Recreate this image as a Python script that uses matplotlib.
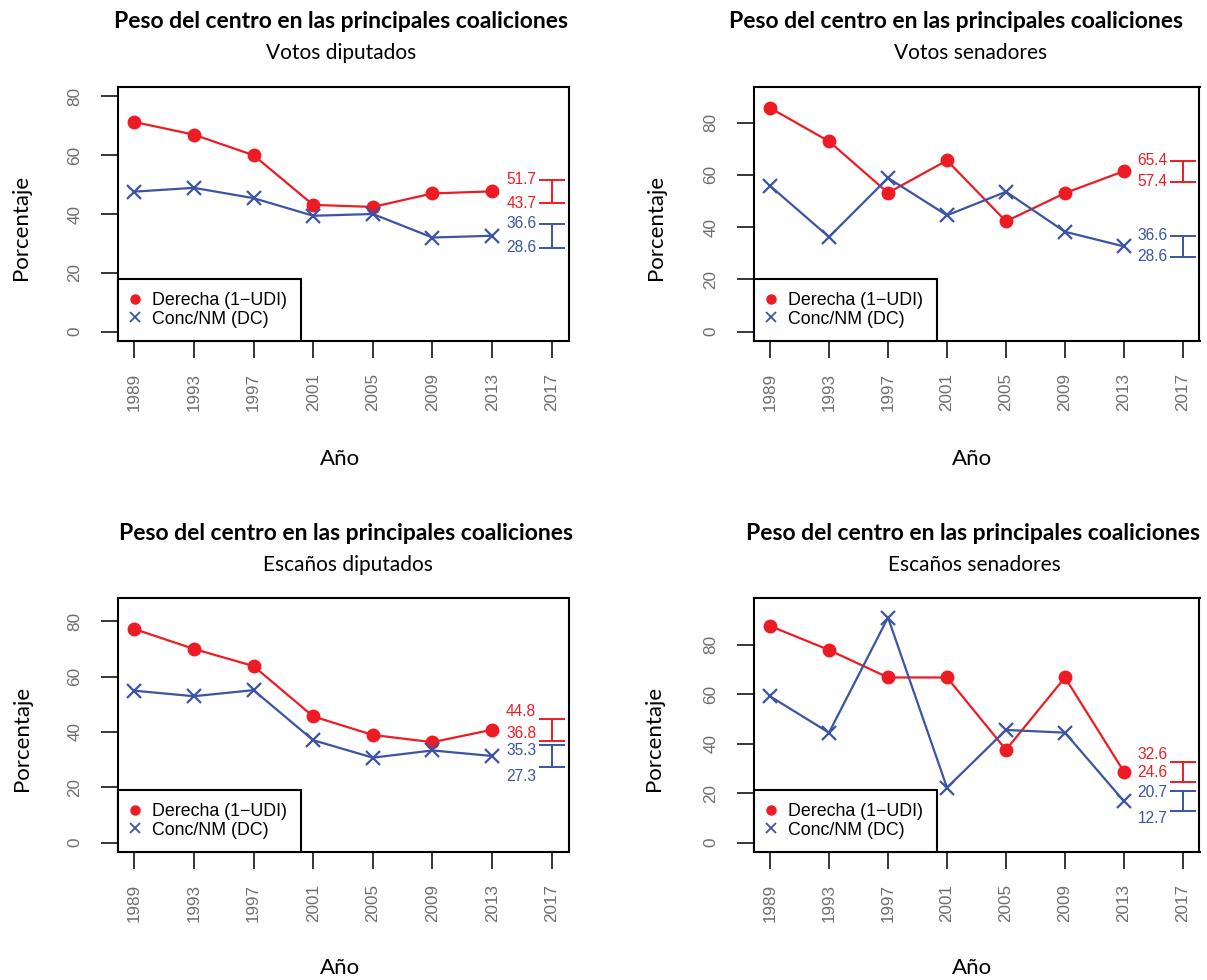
import matplotlib
matplotlib.use("Agg")
import matplotlib.pyplot as plt
from matplotlib.lines import Line2D

# ---- data ---------------------------------------------------------------
years = [1989, 1993, 1997, 2001, 2005, 2009, 2013]
year_ticks = [1989, 1993, 1997, 2001, 2005, 2009, 2013, 2017]
y_ticks = [0, 20, 40, 60, 80]

subtitles = ["Votos diputados", "Votos senadores",
             "Escaños diputados", "Escaños senadores"]

derecha_votos_dip = [71.3, 67.0, 60.0, 43.1, 42.4, 47.0, 47.7]
conc_votos_dip = [47.6, 48.9, 45.4, 39.4, 40.0, 32.0, 32.6]

derecha_votos_sen = [85.6, 72.8, 53.1, 65.5, 42.2, 53.0, 61.4]
conc_votos_sen = [55.8, 36.2, 58.8, 44.5, 53.5, 38.2, 32.6]

derecha_escanos_dip = [77.2, 70.0, 63.8, 45.6, 38.9, 36.3, 40.8]
conc_escanos_dip = [54.9, 52.9, 55.1, 37.0, 30.7, 33.3, 31.3]

derecha_escanos_sen = [87.5, 77.8, 66.7, 66.7, 37.5, 66.7, 28.6]
conc_escanos_sen = [59.1, 44.4, 90.9, 22.2, 45.5, 44.4, 16.7]

# upper limit of the y range for each panel
y_top = [80, 90, 85, 95]
# half width of the band drawn around the last observation
band = 4.0

legend_labels = ["Derecha (1\u2212UDI)", "Conc/NM (DC)"]

# ---- style ----------------------------------------------------------------
RED = "#ED1C24"
BLUE = "#3B54A4"
GRAY = "#6E6E6E"
SANS = ["Liberation Sans", "DejaVu Sans"]
HEAD = ["Lato", "DejaVu Sans"]

W, H = 1207, 980
fig = plt.figure(figsize=(W / 100, H / 100), dpi=100)


def px_axes(left, top, right, bottom):
    return fig.add_axes([left / W, 1 - bottom / H, (right - left) / W,
                         (bottom - top) / H])


def ftext(x, y, s, **kw):
    fig.text(x / W, 1 - y / H, s, ha="center", va="center", **kw)


# panel geometry in pixels: left, top, right, bottom
boxes = [(117.5, 87, 568.5, 341), (753.5, 87, 1199.5, 341),
         (117.5, 598, 568.5, 852), (753.5, 598, 1199.5, 852)]
title_pos = [(341, 21), (956, 21), (346, 533), (973, 533)]
sub_pos = [(341, 53), (971, 53), (348, 565), (974, 565)]
ylab_pos = [(21, 227), (656, 227), (22, 738), (654, 738)]
xlab_pos = [(340, 459), (972, 459), (340, 968), (972, 968)]
# vertical nudges (points, positive = up) of the four band labels
label_nudge = [(0, 0, 0, 0), (0, 0, 0, 0),
               (5.0, 5.5, -3.8, -6.8), (5.5, 6.3, -0.7, -5.0)]

series = [(derecha_votos_dip, conc_votos_dip),
          (derecha_votos_sen, conc_votos_sen),
          (derecha_escanos_dip, conc_escanos_dip),
          (derecha_escanos_sen, conc_escanos_sen)]

for i, ((red_vals, blue_vals), box) in enumerate(zip(series, boxes)):
    ax = px_axes(*box)
    x0, x1 = year_ticks[0], year_ticks[-1]
    ax.set_xlim(x0 - 0.04 * (x1 - x0), x1 + 0.04 * (x1 - x0))
    ax.set_ylim(-0.04 * y_top[i], y_top[i] * 1.04)

    ax.plot(years, red_vals, color=RED, lw=1.6, marker="o", ms=9,
            mec=RED, mfc=RED, zorder=3, clip_on=False)
    ax.plot(years, blue_vals, color=BLUE, lw=1.6, marker="x", ms=10,
            mew=1.6, zorder=3, clip_on=False)

    # bands around the last value of each series
    nudges = label_nudge[i]
    k = 0
    for vals, col in ((red_vals, RED), (blue_vals, BLUE)):
        hi, lo = vals[-1] + band, vals[-1] - band
        ax.plot([x1, x1], [lo, hi], color=col, lw=1.4, zorder=2)
        for v in (hi, lo):
            ax.plot([x1 - 0.8, x1 + 0.8], [v, v], color=col, lw=1.4,
                    zorder=2)
            ax.annotate(f"{v:.1f}", xy=(x1 - 1.05, v),
                        xytext=(0, nudges[k]), textcoords="offset points",
                        ha="right", va="center", color=col, fontsize=11.2,
                        family=SANS)
            k += 1

    ax.set_xticks(year_ticks)
    ax.set_xticklabels([str(y) for y in year_ticks], rotation=90,
                       family=SANS, fontsize=12.3, color=GRAY, va="top")
    ax.set_yticks(y_ticks)
    ax.set_yticklabels([str(y) for y in y_ticks], rotation=90,
                       family=SANS, fontsize=12.3, color=GRAY, va="center")
    ax.tick_params(axis="both", length=12.2, width=1.1, color="black")
    ax.tick_params(axis="x", pad=10.5)
    ax.tick_params(axis="y", pad=13)
    for sp in ax.spines.values():
        sp.set_linewidth(1.5)

    handles = [Line2D([], [], ls="none", marker="o", ms=6.5, color=RED),
               Line2D([], [], ls="none", marker="x", ms=6.5, mew=1.3,
                      color=BLUE)]
    leg = ax.legend(handles, legend_labels, loc="lower left",
                    borderaxespad=0, fancybox=False, framealpha=1,
                    edgecolor="black", prop={"family": SANS, "size": 12.8},
                    borderpad=0.75, handlelength=0.5, handletextpad=0.7,
                    labelspacing=0.1)
    leg.get_frame().set_linewidth(1.5)
    leg.set_zorder(5)

    ftext(*title_pos[i], "Peso del centro en las principales coaliciones",
          family=HEAD, fontweight="bold", fontsize=16.5)
    ftext(*sub_pos[i], subtitles[i], family=HEAD, fontsize=15)
    ftext(*ylab_pos[i], "Porcentaje", family=HEAD, fontsize=16,
          rotation=90)
    ftext(*xlab_pos[i], "Año", family=HEAD, fontsize=16)

fig.savefig("out.png", dpi=100)
